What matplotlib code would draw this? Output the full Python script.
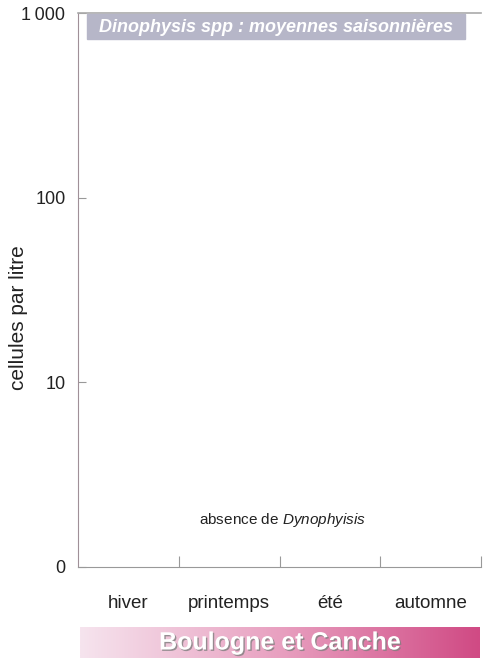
import numpy as np
import matplotlib.pyplot as plt
import matplotlib.patheffects as pe
from matplotlib.colors import LinearSegmentedColormap

plt.rcParams["font.family"] = ["Liberation Sans", "DejaVu Sans"]
plt.rcParams["mathtext.fontset"] = "custom"
plt.rcParams["mathtext.rm"] = "Liberation Sans"
plt.rcParams["mathtext.it"] = "Liberation Sans:italic"

saisons = ["hiver", "printemps", "été", "automne"]
y_ticks = [1, 10, 100, 1000]
y_labels = ["0", "10", "100", "1\u2009000"]
# aucune valeur mesurée : absence de Dinophysis
note_pos = (2.03, 1.8)

fig = plt.figure(figsize=(4.87, 6.58), dpi=100)
ax = fig.add_axes([0.160, 0.1383, 0.828, 0.8417])
ax.set_yscale("log")
ax.set_ylim(1, 1000)
ax.set_xlim(0, len(saisons))

ax.set_yticks(y_ticks)
ax.set_yticklabels(y_labels)
ax.yaxis.set_minor_locator(plt.NullLocator())
ax.set_xticks(np.arange(1, len(saisons) + 1))
ax.set_xticklabels([])
ax.set_xticks(np.arange(len(saisons)) + 0.5, minor=True)
ax.set_xticklabels(saisons, minor=True)
ax.tick_params(axis="x", which="major", direction="in", length=8, color="#999999")
ax.tick_params(axis="x", which="minor", length=0, pad=20, labelsize=13.5, labelcolor="#222222")
ax.tick_params(axis="y", direction="in", length=6, color="#999999", pad=9,
               labelsize=13, labelcolor="#222222")

ax.spines["right"].set_visible(False)
ax.spines["left"].set_color("#a09098")
ax.spines["bottom"].set_color("#999999")
ax.spines["top"].set_color("#aaaaaa")
ax.spines["top"].set_linewidth(1.2)

ax.set_ylabel("cellules par litre", fontsize=15, color="#222222")
ax.yaxis.set_label_coords(-0.125, 0.45)

ax.text(note_pos[0], note_pos[1], "absence de $\\mathit{Dynophyisis}$",
        ha="center", va="center", fontsize=11, color="#222222")

# bandeau titre
fig.patches.append(plt.Rectangle((87 / 487, 1 - 39 / 658), (465 - 87) / 487, 25 / 658,
                                 transform=fig.transFigure, color="#b6b6c8", zorder=3))
fig.text(276 / 487, 1 - 27 / 658, "Dinophysis spp : moyennes saisonnières",
         ha="center", va="center", color="white", fontsize=13,
         fontweight="bold", style="italic", zorder=4)

# bandeau station
bax = fig.add_axes([80 / 487, 0, 400 / 487, 31 / 658])
cmap = LinearSegmentedColormap.from_list("rose", ["#f6e4ee", "#e8a0c0", "#d04a84"])
bax.imshow(np.linspace(0, 1, 256)[None, :], aspect="auto", cmap=cmap,
           extent=[0, 1, 0, 1])
bax.set_axis_off()
bax.text(0.5, 0.5, "Boulogne et Canche", ha="center", va="center",
         color="white", fontsize=18, fontweight="bold",
         path_effects=[pe.withSimplePatchShadow(offset=(1, -1), shadow_rgbFace="#808080",
                                                alpha=0.8)])

fig.savefig("out.png", dpi=100)
